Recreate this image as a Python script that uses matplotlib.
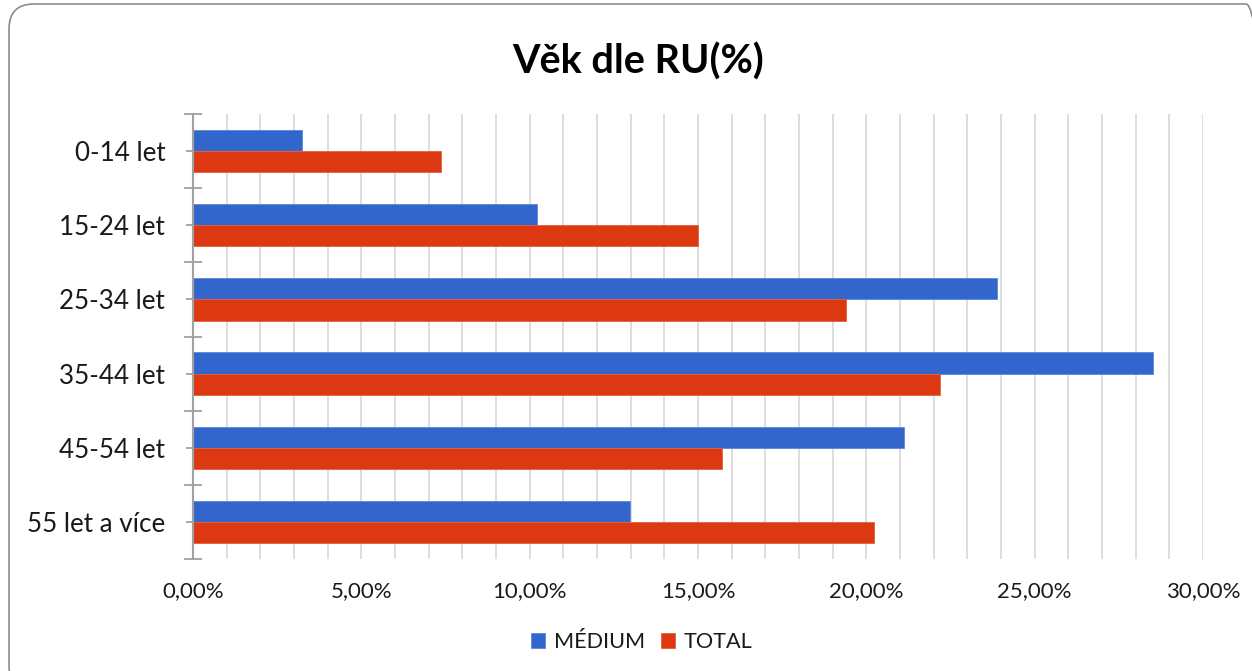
import matplotlib
matplotlib.use("Agg")
import matplotlib.pyplot as plt
import numpy as np
from matplotlib.patches import FancyBboxPatch
from matplotlib.ticker import FuncFormatter, MultipleLocator, FixedLocator

plt.rcParams['font.family'] = ['Lato', 'DejaVu Sans']

categories = ["0-14 let", "15-24 let", "25-34 let", "35-44 let", "45-54 let", "55 let a více"]
medium = [3.24, 10.22, 23.88, 28.51, 21.12, 12.98]
total = [7.37, 15.00, 19.39, 22.20, 15.71, 20.23]
series_names = ["MÉDIUM", "TOTAL"]
colors = ["#3366CC", "#DC3912"]

W, H = 1252, 671
fig = plt.figure(figsize=(W / 100, H / 100), dpi=100)

# rounded border
border = FancyBboxPatch((9 / W, -20 / H), (W + 10) / W, (H + 8 - 12) / H + 20 / H,
                        boxstyle="round,pad=0,rounding_size=0.02",
                        transform=fig.transFigure, fill=False,
                        edgecolor="#8c8c8c", linewidth=1.2, mutation_aspect=W / H)
fig.patches.append(border)

left, right, top, bottom = 193, 1203, 114, 559
ax = fig.add_axes([left / W, 1 - bottom / H, (right - left) / W, (bottom - top) / H])

y = np.arange(len(categories))
bh = 0.285
ax.barh(y - bh / 2, medium, height=bh, color=colors[0], label=series_names[0],
        edgecolor="#5d86d6", linewidth=0.6, zorder=3)
ax.barh(y + bh / 2, total, height=bh, color=colors[1], label=series_names[1],
        edgecolor="#e55f40", linewidth=0.6, zorder=3)

ax.set_xlim(0, 30)
ax.set_ylim(len(categories) - 0.5, -0.5)

ax.xaxis.set_major_locator(MultipleLocator(5))
ax.xaxis.set_minor_locator(MultipleLocator(1))
ax.xaxis.set_major_formatter(FuncFormatter(lambda v, p: f"{v:.2f}".replace(".", ",") + "%"))
ax.grid(True, axis="x", which="both", color="#d4d4d4", linewidth=1.1, zorder=0)
ax.tick_params(axis="x", which="both", length=0, pad=16, labelsize=16, labelcolor="#1a1a1a")

ax.yaxis.set_major_locator(FixedLocator(np.arange(-0.5, len(categories), 1.0)))
ax.yaxis.set_minor_locator(FixedLocator(y))
ax.set_yticklabels([""] * (len(categories) + 1))
ax.set_yticks(y, minor=True)
ax.set_yticklabels(categories, minor=True)
ax.tick_params(axis="y", which="major", direction="inout", length=13, width=1.3, color="#a0a0a0")
ax.tick_params(axis="y", which="minor", direction="out", length=5, width=1.3, color="#a0a0a0",
               labelsize=18.7, pad=15, labelcolor="#1a1a1a")

for s in ["top", "right", "bottom"]:
    ax.spines[s].set_visible(False)
ax.spines["left"].set_color("#a0a0a0")
ax.spines["left"].set_linewidth(1.5)
ax.spines["left"].set_zorder(4)

fig.text(638 / W, 1 - 62 / H, "Věk dle RU(%)", ha="center", va="center",
         fontsize=28.5, fontweight="bold", color="#000000")

handles, labels = ax.get_legend_handles_labels()
fig.legend(handles, labels, loc="center", bbox_to_anchor=(642 / W, 1 - 642 / H),
           ncol=2, frameon=False, fontsize=15.6, handlelength=0.65, handleheight=0.65,
           handletextpad=0.4, columnspacing=0.75, labelcolor="#1a1a1a")

fig.savefig("out.png", dpi=100)
